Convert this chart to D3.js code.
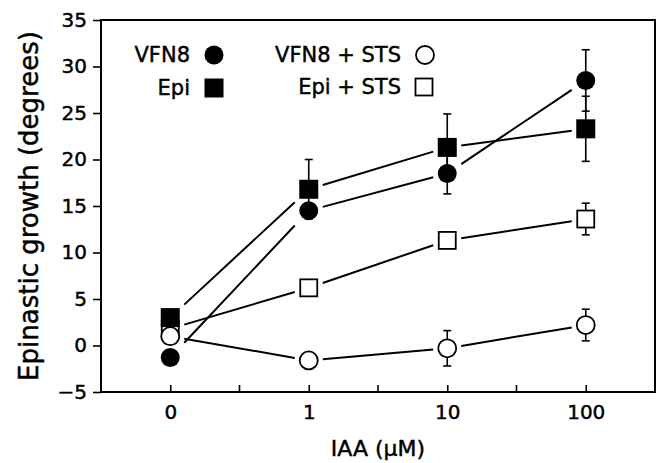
<!DOCTYPE html>
<html>
<head>
<meta charset="utf-8">
<script src="https://cdn.jsdelivr.net/npm/d3@7"></script>
<style>
  body { margin: 0; background: #fff; }
  text { font-family: "DejaVu Sans", sans-serif; fill: #000; stroke: #000; stroke-width: 0.45px; }
</style>
</head>
<body>
<div id="chart"></div>
<script>
const width = 657, height = 463;
const margin = { top: 20, right: 2, bottom: 71, left: 101 };

// IAA doses (uM), plotted evenly spaced
const doses = ['0', '1', '10', '100'];
const yTicks = [-5, 0, 5, 10, 15, 20, 25, 30, 35];

// epinastic growth (degrees) and error
const vfn8 = [-1.3, 14.5, 18.5, 28.5];
const vfn8Err = [0, 0.6, 2.2, 3.3];
const epi = [3.0, 16.8, 21.3, 23.3];
const epiErr = [0, 3.2, 3.6, 3.5];
const vfn8Sts = [1.0, -1.6, -0.3, 2.2];
const vfn8StsErr = [0, 0, 1.9, 1.7];
const epiSts = [1.8, 6.2, 11.3, 13.6];
const epiStsErr = [0, 0, 0, 1.7];

const series = [
    { name: 'VFN8', values: vfn8, err: vfn8Err, shape: 'circle', filled: true },
    { name: 'Epi + STS', values: epiSts, err: epiStsErr, shape: 'square', filled: false },
    { name: 'VFN8 + STS', values: vfn8Sts, err: vfn8StsErr, shape: 'circle', filled: false },
    { name: 'Epi', values: epi, err: epiErr, shape: 'square', filled: true }
];

const svg = d3.select('#chart').append('svg')
    .attr('width', width)
    .attr('height', height);

const x = d3.scalePoint()
    .domain(doses)
    .range([margin.left, width - margin.right])
    .padding(0.5);

const y = d3.scaleLinear()
    .domain([-5, 35])
    .range([height - margin.bottom, margin.top]);

// frame
svg.append('rect')
    .attr('x', margin.left)
    .attr('y', margin.top)
    .attr('width', width - margin.right - margin.left)
    .attr('height', height - margin.bottom - margin.top)
    .attr('fill', 'none')
    .attr('stroke', '#000')
    .attr('stroke-width', 2);

// Y axis (ticks outward)
const yAxis = svg.append('g')
    .attr('transform', `translate(${margin.left},0)`)
    .call(d3.axisLeft(y).tickValues(yTicks).tickSize(8).tickPadding(6));
yAxis.select('.domain').remove();
yAxis.selectAll('line').attr('stroke-width', 1.6);
yAxis.selectAll('text').style('font-size', '20px').attr('font-family', null).attr('fill', null);

// X axis (ticks inward)
const xAxis = svg.append('g')
    .attr('transform', `translate(0,${height - margin.bottom})`)
    .call(d3.axisBottom(x).tickSize(-7).tickPadding(13));
xAxis.select('.domain').remove();
xAxis.selectAll('line').attr('stroke-width', 1.6);
xAxis.selectAll('text').style('font-size', '20px').attr('font-family', null).attr('fill', null);

// minor ticks halfway between doses
const step = x.step();
svg.append('g').selectAll('line')
    .data(doses.slice(0, -1))
    .join('line')
    .attr('x1', d => x(d) + step / 2)
    .attr('x2', d => x(d) + step / 2)
    .attr('y1', height - margin.bottom)
    .attr('y2', height - margin.bottom - 7)
    .attr('stroke', '#000')
    .attr('stroke-width', 1.6);

// axis titles
svg.append('text')
    .attr('x', (margin.left + width - margin.right) / 2)
    .attr('y', 456)
    .attr('text-anchor', 'middle')
    .style('font-size', '22px')
    .text('IAA (\u03bcM)');

svg.append('text')
    .attr('transform', 'rotate(-90)')
    .attr('x', -206)
    .attr('y', 38)
    .attr('text-anchor', 'middle')
    .style('font-size', '26px')
    .text('Epinastic growth (degrees)');

// error bars
const cap = 4;
series.forEach(s => {
    const g = svg.append('g');
    s.values.forEach((v, i) => {
        if (!s.err[i]) return;
        const cx = x(doses[i]);
        const lo = y(v - s.err[i]), hi = y(v + s.err[i]);
        g.append('line')
            .attr('x1', cx).attr('x2', cx)
            .attr('y1', lo).attr('y2', hi)
            .attr('stroke', '#000').attr('stroke-width', 1.6);
        [lo, hi].forEach(yy => {
            g.append('line')
                .attr('x1', cx - cap).attr('x2', cx + cap)
                .attr('y1', yy).attr('y2', yy)
                .attr('stroke', '#000').attr('stroke-width', 1.6);
        });
    });
});

// connecting lines, stopped short of each marker
const gap = 14;
series.forEach(s => {
    for (let i = 0; i < s.values.length - 1; i++) {
        const x0 = x(doses[i]), x1 = x(doses[i + 1]);
        const y0 = y(s.values[i]), y1 = y(s.values[i + 1]);
        const t0 = gap / (x1 - x0), t1 = 1 - t0;
        svg.append('line')
            .attr('x1', x0 + (x1 - x0) * t0)
            .attr('y1', y0 + (y1 - y0) * t0)
            .attr('x2', x0 + (x1 - x0) * t1)
            .attr('y2', y0 + (y1 - y0) * t1)
            .attr('stroke', '#000')
            .attr('stroke-width', 2);
    }
});

function marker(sel, s, cx, cy) {
    if (s.shape === 'circle') {
        sel.append('circle')
            .attr('cx', cx).attr('cy', cy)
            .attr('r', s.filled ? 9.5 : 9)
            .attr('fill', s.filled ? '#000' : '#fff')
            .attr('stroke', '#000')
            .attr('stroke-width', s.filled ? 0 : 1.8);
    } else {
        const a = s.filled ? 19 : 17;
        sel.append('rect')
            .attr('x', cx - a / 2).attr('y', cy - a / 2)
            .attr('width', a).attr('height', a)
            .attr('fill', s.filled ? '#000' : '#fff')
            .attr('stroke', '#000')
            .attr('stroke-width', s.filled ? 0 : 1.8);
    }
}

// markers
series.forEach(s => {
    const g = svg.append('g');
    s.values.forEach((v, i) => marker(g, s, x(doses[i]), y(v)));
});

// legend
const legendPos = {
    'VFN8': [190, 214, 55],
    'Epi': [190, 214, 88],
    'VFN8 + STS': [401, 425, 55],
    'Epi + STS': [401, 424, 87]
};
series.forEach(s => {
    const [tx, mx, my] = legendPos[s.name];
    svg.append('text')
        .attr('x', tx)
        .attr('y', my + 7)
        .attr('text-anchor', 'end')
        .style('font-size', '21px')
        .text(s.name);
    marker(svg, s, mx, my);
});
</script>
</body>
</html>
